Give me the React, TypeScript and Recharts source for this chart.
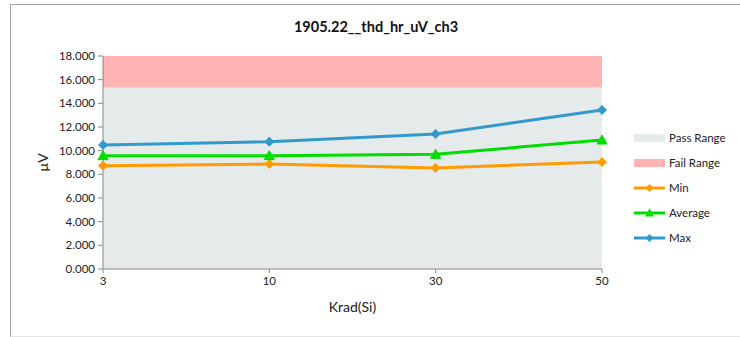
import React from 'react';
import { ComposedChart, Area, Line, XAxis, YAxis, Label } from 'recharts';

const categories = ['3', '10', '30', '50'];
const minValues = [8.73, 8.87, 8.54, 9.04];
const avgValues = [9.58, 9.58, 9.69, 10.9];
const maxValues = [10.48, 10.76, 11.41, 13.44];
const passLimit = [15.33, 15.33, 15.33, 15.33];
const failSpan = [2.67, 2.67, 2.67, 2.67];
const yTicks = [0, 2, 4, 6, 8, 10, 12, 14, 16, 18];

const data = categories.map((c, i) => ({
  cat: c,
  pass: passLimit[i],
  fail: failSpan[i],
  min: minValues[i],
  avg: avgValues[i],
  max: maxValues[i],
}));

const FONT = 'Lato, "Open Sans", sans-serif';
const C_PASS = '#e5eaea';
const C_FAIL = '#ffb3b3';
const C_MIN = '#ff9a00';
const C_AVG = '#00dd00';
const C_MAX = '#3399cc';

const Diamond = (color: string) => (props: any) => {
  const { cx, cy, index } = props;
  if (cx == null || cy == null) return <g key={index} />;
  const r = 4.5;
  return (
    <path
      key={index}
      d={`M${cx},${cy - r}L${cx + r},${cy}L${cx},${cy + r}L${cx - r},${cy}Z`}
      fill={color}
      stroke={color}
    />
  );
};

const Triangle = (color: string) => (props: any) => {
  const { cx, cy, index } = props;
  if (cx == null || cy == null) return <g key={index} />;
  const r = 5;
  return (
    <path
      key={index}
      d={`M${cx},${cy - r}L${cx + r},${cy + r * 0.8}L${cx - r},${cy + r * 0.8}Z`}
      fill={color}
      stroke={color}
    />
  );
};

const legendItems = [
  { label: 'Pass Range', type: 'rect', color: C_PASS },
  { label: 'Fail Range', type: 'rect', color: C_FAIL },
  { label: 'Min', type: 'diamond', color: C_MIN },
  { label: 'Average', type: 'triangle', color: C_AVG },
  { label: 'Max', type: 'diamond', color: C_MAX },
];

const LegendBox = () => (
  <svg width={100} height={130} style={{ overflow: 'visible', display: 'block' }}>
    {legendItems.map((it, i) => {
      const y = 10 + i * 25;
      return (
        <g key={it.label}>
          {it.type === 'rect' ? (
            <rect x={0} y={y - 4} width={31} height={8} fill={it.color} />
          ) : (
            <g>
              <line x1={0} x2={31} y1={y} y2={y} stroke={it.color} strokeWidth={3} />
              {it.type === 'diamond' ? (
                <path d={`M15.5,${y - 4}L19.5,${y}L15.5,${y + 4}L11.5,${y}Z`} fill={it.color} />
              ) : (
                <path d={`M15.5,${y - 4.5}L20,${y + 3.5}L11,${y + 3.5}Z`} fill={it.color} />
              )}
            </g>
          )}
          <text x={35} y={y + 4} fontSize={11.5} fill="#222" fontFamily={FONT}>
            {it.label}
          </text>
        </g>
      );
    })}
  </svg>
);

export default function App() {
  return (
    <div style={{ position: 'absolute', left: 0, top: 0, width: 740, height: 337, background: '#fff', overflow: 'hidden' }}>
      <div
        style={{
          position: 'absolute',
          left: 10,
          top: 4,
          width: 800,
          height: 331,
          borderLeft: '1.5px solid #a6a6a6',
          borderTop: '1.5px solid #a6a6a6',
          borderBottom: '1px solid #e6e6e6',
        }}
      />
      <div
        style={{
          position: 'absolute',
          left: 0,
          width: 752,
          top: 18,
          textAlign: 'center',
          fontFamily: FONT,
          fontWeight: 'bold',
          fontSize: 14.5,
          color: '#111',
        }}
      >
        1905.22__thd_hr_uV_ch3
      </div>
      <div style={{ position: 'absolute', left: 0, top: 0 }}>
        <ComposedChart
          width={740}
          height={337}
          data={data}
          margin={{ top: 56, right: 138, bottom: 0, left: 43 }}
        >
          <XAxis
            dataKey="cat"
            height={68}
            tick={{ fontSize: 11.5, fill: '#222', fontFamily: FONT }}
            tickLine={{ stroke: '#888' }}
            axisLine={{ stroke: '#888' }}
            tickSize={4}
            tickMargin={4}
            interval={0}
          >
            <Label
              content={(p: any) => {
                const vb = p.viewBox;
                return (
                  <text
                    x={vb.x + vb.width / 2}
                    y={vb.y + 43}
                    textAnchor="middle"
                    fontSize={14}
                    fill="#222"
                    fontFamily={FONT}
                  >
                    Krad(Si)
                  </text>
                );
              }}
            />
          </XAxis>
          <YAxis
            width={60}
            domain={[0, 18]}
            ticks={yTicks}
            interval={0}
            allowDataOverflow
            tickFormatter={(v: number) => v.toFixed(3)}
            tick={{ fontSize: 11.5, fill: '#222', fontFamily: FONT }}
            tickLine={{ stroke: '#888' }}
            axisLine={{ stroke: '#888' }}
            tickSize={5}
            tickMargin={3}
          >
            <Label
              content={(p: any) => {
                const vb = p.viewBox;
                const cx = 48;
                const cy = vb.y + vb.height / 2;
                return (
                  <text
                    x={cx}
                    y={cy}
                    transform={`rotate(-90 ${cx} ${cy})`}
                    textAnchor="middle"
                    fontSize={14}
                    fill="#222"
                    fontFamily={FONT}
                  >
                    µV
                  </text>
                );
              }}
            />
          </YAxis>
          <Area
            type="linear"
            dataKey="pass"
            stackId="range"
            fill={C_PASS}
            fillOpacity={1}
            stroke="none"
            isAnimationActive={false}
          />
          <Area
            type="linear"
            dataKey="fail"
            stackId="range"
            fill={C_FAIL}
            fillOpacity={1}
            stroke="none"
            isAnimationActive={false}
          />
          <Line
            type="linear"
            dataKey="min"
            stroke={C_MIN}
            strokeWidth={3}
            dot={Diamond(C_MIN)}
            activeDot={false}
            isAnimationActive={false}
          />
          <Line
            type="linear"
            dataKey="avg"
            stroke={C_AVG}
            strokeWidth={3}
            dot={Triangle(C_AVG)}
            activeDot={false}
            isAnimationActive={false}
          />
          <Line
            type="linear"
            dataKey="max"
            stroke={C_MAX}
            strokeWidth={3}
            dot={Diamond(C_MAX)}
            activeDot={false}
            isAnimationActive={false}
          />
        </ComposedChart>
      </div>
      <div style={{ position: 'absolute', left: 634, top: 128 }}>
        <LegendBox />
      </div>
    </div>
  );
}
